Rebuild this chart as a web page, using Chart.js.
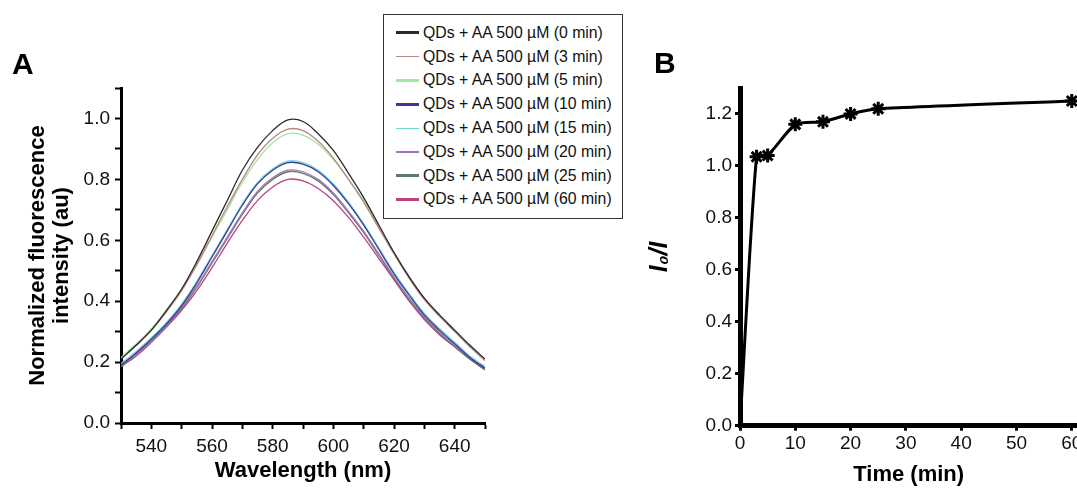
<!DOCTYPE html>
<html>
<head>
<meta charset="utf-8">
<script src="https://cdn.jsdelivr.net/npm/chart.js@4.4.1/dist/chart.umd.min.js"></script>
<style>
  html, body { margin: 0; padding: 0; background: #fff; overflow: hidden; }
  #wrap { position: relative; width: 1077px; height: 488px; overflow: hidden; font-family: "Liberation Sans", Arial, sans-serif; }
  #chartA { position: absolute; left: 0; top: 0; }
  #chartB { position: absolute; left: 640px; top: 0; }
  .panel { position: absolute; font-weight: bold; font-size: 30px; line-height: 30px; color: #000; }
  #legendA { position: absolute; left: 383px; top: 14px; width: 240px; height: 205px; border: 1px solid #333; background: #fff; box-sizing: border-box; padding-top: 6px; }
  #legendA .row { height: 23.8px; display: flex; align-items: center; font-size: 15.8px; color: #111; white-space: nowrap; }
  #legendA .swatch { width: 23px; margin-left: 12px; margin-right: 4px; }
</style>
</head>
<body>
<div id="wrap">
  <canvas id="chartA" width="640" height="488"></canvas>
  <canvas id="chartB" width="460" height="488"></canvas>
  <div class="panel" style="left:12px; top:49px;">A</div>
  <div class="panel" style="left:654px; top:48px;">B</div>
  <div id="legendA"></div>
</div>
<script>
// ---- Panel A: emission spectra ----
const wavelengths = [530, 535, 540, 545, 550, 555, 560, 565, 570, 575, 580, 585, 590,
                     595, 600, 605, 610, 615, 620, 625, 630, 635, 640, 645, 650];

const spec0min  = [0.21, 0.255, 0.305, 0.37, 0.44, 0.53, 0.63, 0.73, 0.83, 0.905, 0.96, 0.995, 0.99,
                   0.95, 0.895, 0.82, 0.74, 0.65, 0.56, 0.48, 0.41, 0.355, 0.305, 0.255, 0.21];
const spec3min  = [0.21, 0.255, 0.305, 0.365, 0.435, 0.52, 0.615, 0.71, 0.80, 0.88, 0.935, 0.965, 0.96,
                   0.925, 0.87, 0.80, 0.725, 0.64, 0.555, 0.475, 0.405, 0.35, 0.30, 0.25, 0.205];
const spec5min  = [0.215, 0.26, 0.31, 0.37, 0.44, 0.52, 0.61, 0.70, 0.79, 0.865, 0.92, 0.95, 0.945,
                   0.915, 0.865, 0.80, 0.73, 0.645, 0.56, 0.48, 0.41, 0.355, 0.305, 0.255, 0.21];
const spec10min = [0.19, 0.23, 0.275, 0.325, 0.385, 0.46, 0.545, 0.63, 0.715, 0.785, 0.83, 0.855, 0.85,
                   0.825, 0.78, 0.72, 0.65, 0.57, 0.49, 0.42, 0.355, 0.305, 0.26, 0.215, 0.18];
const spec15min = [0.195, 0.235, 0.28, 0.33, 0.39, 0.465, 0.55, 0.635, 0.72, 0.79, 0.835, 0.86, 0.855,
                   0.83, 0.785, 0.725, 0.655, 0.575, 0.495, 0.425, 0.36, 0.31, 0.265, 0.22, 0.185];
const spec20min = [0.19, 0.225, 0.27, 0.32, 0.38, 0.45, 0.53, 0.61, 0.69, 0.76, 0.805, 0.83, 0.825,
                   0.80, 0.755, 0.695, 0.63, 0.555, 0.48, 0.41, 0.35, 0.30, 0.255, 0.215, 0.18];
const spec25min = [0.185, 0.225, 0.27, 0.32, 0.375, 0.445, 0.525, 0.605, 0.685, 0.755, 0.80, 0.825, 0.82,
                   0.795, 0.75, 0.69, 0.625, 0.55, 0.475, 0.405, 0.345, 0.295, 0.25, 0.21, 0.175];
const spec60min = [0.185, 0.22, 0.265, 0.315, 0.37, 0.435, 0.51, 0.59, 0.665, 0.73, 0.775, 0.80, 0.795,
                   0.77, 0.73, 0.675, 0.61, 0.54, 0.47, 0.40, 0.34, 0.29, 0.25, 0.21, 0.175];

const seriesLabels = ['QDs + AA 500 µM (0 min)', 'QDs + AA 500 µM (3 min)', 'QDs + AA 500 µM (5 min)',
                      'QDs + AA 500 µM (10 min)', 'QDs + AA 500 µM (15 min)', 'QDs + AA 500 µM (20 min)',
                      'QDs + AA 500 µM (25 min)', 'QDs + AA 500 µM (60 min)'];
const seriesData = [spec0min, spec3min, spec5min, spec10min, spec15min, spec20min, spec25min, spec60min];
const seriesColors = ['#2a2a2a', '#b98585', '#9fe89f', '#3a3a92', '#72d6d6', '#a274bc', '#627866', '#bb4380'];
const legendWidths = [3, 1.5, 3, 3, 1.5, 2.5, 3, 3];

// ---- Panel B: I0/I vs time ----
const times = [0, 3, 5, 10, 15, 20, 25, 60];
const ratio = [0.0, 1.035, 1.04, 1.16, 1.17, 1.20, 1.22, 1.25];
const timeTicks = [0, 10, 20, 30, 40, 50, 60];
const ratioTicks = [0.0, 0.2, 0.4, 0.6, 0.8, 1.0, 1.2];

const FONT = "'Liberation Sans', Arial, sans-serif";

function fixWidth(w) { return s => { s.width = w; }; }
function fixHeight(h) { return s => { s.height = h; }; }

// legend (HTML, built from the series arrays)
const legendEl = document.getElementById('legendA');
seriesLabels.forEach((lab, i) => {
    const row = document.createElement('div');
    row.className = 'row';
    const sw = document.createElement('div');
    sw.className = 'swatch';
    sw.style.borderTop = legendWidths[i] + 'px solid ' + seriesColors[i];
    const tx = document.createElement('span');
    tx.textContent = lab;
    row.appendChild(sw);
    row.appendChild(tx);
    legendEl.appendChild(row);
});

new Chart(document.getElementById('chartA'), {
    type: 'line',
    data: {
        datasets: seriesData.map((s, i) => ({
            label: seriesLabels[i],
            data: wavelengths.map((w, j) => ({ x: w, y: s[j] })),
            borderColor: seriesColors[i],
            borderWidth: 1.3,
            pointRadius: 0,
            tension: 0.35,
            fill: false
        }))
    },
    options: {
        responsive: false, animation: false, devicePixelRatio: 1,
        layout: { padding: { top: 88, right: 155, left: 0, bottom: 0 } },
        plugins: { legend: { display: false }, tooltip: { enabled: false } },
        scales: {
            x: {
                type: 'linear', min: 530, max: 650,
                afterFit: fixHeight(65),
                border: { display: true, color: '#000', width: 3 },
                grid: { drawOnChartArea: false, drawTicks: true, tickLength: 6, tickColor: '#000', tickWidth: 2 },
                ticks: { stepSize: 10, autoSkip: false, maxRotation: 0, color: '#111', padding: 6,
                         font: { family: FONT, size: 19 },
                         callback: v => (v % 20 === 0 ? String(v) : '') },
                title: { display: true, text: 'Wavelength (nm)', color: '#000',
                         font: { family: FONT, size: 22, weight: 'bold', lineHeight: 1.1 },
                         padding: { top: 0, bottom: 5 } }
            },
            y: {
                min: 0, max: 1.1,
                afterFit: fixWidth(121),
                border: { display: true, color: '#000', width: 3 },
                grid: { drawOnChartArea: false, drawTicks: true, tickLength: 6, tickColor: '#000', tickWidth: 2 },
                ticks: { stepSize: 0.1, autoSkip: false, color: '#111', padding: 5,
                         font: { family: FONT, size: 19 },
                         callback: v => {
                             const k = Math.round(v * 10);
                             return (k % 2 === 0 && k <= 10) ? (k / 10).toFixed(1) : '';
                         } },
                title: { display: true, text: ['Normalized fluorescence', 'intensity (au)'], color: '#000',
                         font: { family: FONT, size: 22, weight: 'bold', lineHeight: 1.1 },
                         padding: { top: 26, bottom: 0 } }
            }
        }
    }
});

new Chart(document.getElementById('chartB'), {
    type: 'line',
    data: {
        datasets: [{
            label: 'I0/I',
            data: times.map((t, i) => ({ x: t, y: ratio[i] })),
            borderColor: '#000',
            backgroundColor: '#000',
            borderWidth: 3,
            pointStyle: 'star',
            pointRadius: times.map(t => (t === 0 ? 0 : 7)),
            pointBorderWidth: 3,
            tension: 0.2,
            fill: false
        }]
    },
    options: {
        responsive: false, animation: false, devicePixelRatio: 1,
        layout: { padding: { top: 88, right: 22.7, left: 0, bottom: 0 } },
        plugins: { legend: { display: false }, tooltip: { enabled: false } },
        scales: {
            x: {
                type: 'linear', min: 0, max: 61,
                afterFit: fixHeight(62.3),
                afterBuildTicks: s => { s.ticks = timeTicks.map(v => ({ value: v })); },
                border: { display: true, color: '#000', width: 5 },
                grid: { drawOnChartArea: false, drawTicks: true, tickLength: 5, tickColor: '#000', tickWidth: 3 },
                ticks: { autoSkip: false, maxRotation: 0, color: '#111', padding: 2,
                         font: { family: FONT, size: 19 } },
                title: { display: true, text: 'Time (min)', color: '#000',
                         font: { family: FONT, size: 22, weight: 'bold', lineHeight: 1.1 },
                         padding: { top: 0, bottom: 1 } }
            },
            y: {
                min: 0, max: 1.3,
                afterFit: fixWidth(100),
                afterBuildTicks: s => { s.ticks = ratioTicks.map(v => ({ value: v })); },
                border: { display: true, color: '#000', width: 5 },
                grid: { drawOnChartArea: false, drawTicks: true, tickLength: 5, tickColor: '#000', tickWidth: 3 },
                ticks: { autoSkip: false, color: '#111', padding: 3,
                         font: { family: FONT, size: 19 },
                         callback: v => v.toFixed(1) },
                title: { display: true, text: 'I₀/I', color: '#000',
                         font: { family: FONT, size: 25, weight: 'bold', style: 'italic', lineHeight: 1.1 },
                         padding: { top: 6, bottom: 0 } }
            }
        }
    }
});
</script>
</body>
</html>
